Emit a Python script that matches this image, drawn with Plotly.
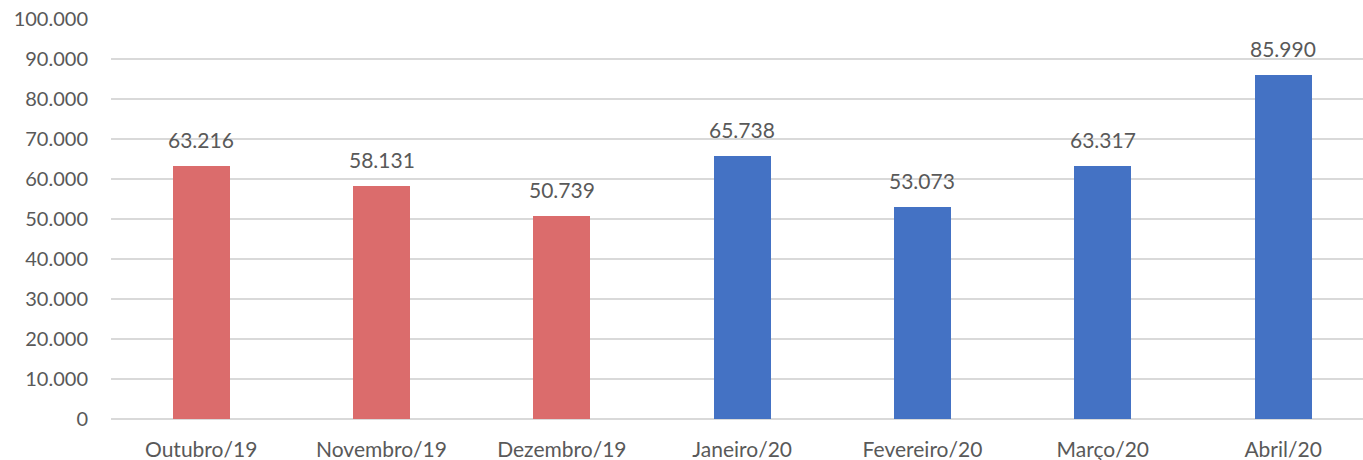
import plotly.graph_objects as go

months = ["Outubro/19", "Novembro/19", "Dezembro/19", "Janeiro/20",
          "Fevereiro/20", "Março/20", "Abril/20"]
values = [63216, 58131, 50739, 65738, 53073, 63317, 85990]
labels = ["63.216", "58.131", "50.739", "65.738", "53.073", "63.317", "85.990"]
bar_colors = ["#DB6C6C", "#DB6C6C", "#DB6C6C", "#4472C4", "#4472C4", "#4472C4", "#4472C4"]

tick_vals = list(range(0, 100001, 10000))
tick_text = ["0"] + [f"{v // 1000}.000" for v in tick_vals[1:]]

FONT = "Lato, 'Open Sans', sans-serif"
TEXT_COLOR = "#595959"

fig = go.Figure()
fig.add_trace(go.Bar(
    x=list(range(len(months))),
    y=values,
    marker=dict(color=bar_colors, line=dict(width=0)),
    width=0.316,
    hoverinfo="skip",
))

for i, (v, t) in enumerate(zip(values, labels)):
    fig.add_annotation(
        x=i, y=v, text=t, showarrow=False,
        yanchor="bottom", yshift=12,
        font=dict(family=FONT, size=21, color=TEXT_COLOR),
    )

fig.update_layout(
    width=1363, height=460,
    margin=dict(l=111, r=0, t=19, b=41),
    plot_bgcolor="white", paper_bgcolor="white",
    showlegend=False,
    font=dict(family=FONT, size=20, color=TEXT_COLOR),
    bargap=0,
)
fig.update_xaxes(
    tickmode="array",
    tickvals=list(range(len(months))),
    ticktext=months,
    range=[-0.5, -0.5 + 1252 / 180.33],
    showgrid=False, zeroline=False, showline=False,
    ticks="", ticklabelstandoff=16,
    tickfont=dict(family=FONT, size=21, color=TEXT_COLOR),
)
fig.update_yaxes(
    range=[0, 100000],
    tickmode="array", tickvals=tick_vals, ticktext=tick_text,
    showgrid=True, gridcolor="#D9D9D9", gridwidth=1.5,
    zeroline=True, zerolinecolor="#D9D9D9", zerolinewidth=1.5,
    showline=False, ticks="", ticklabelstandoff=22,
    tickfont=dict(family=FONT, size=20, color=TEXT_COLOR),
)

fig.write_html("out.html")
